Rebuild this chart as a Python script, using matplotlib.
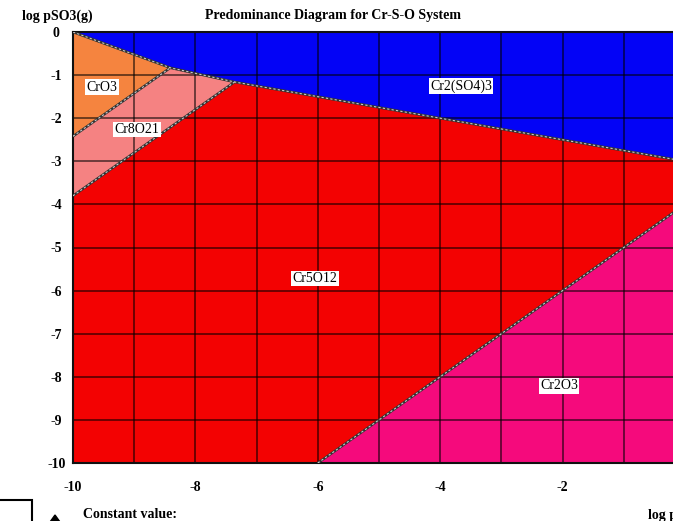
import matplotlib
matplotlib.use("Agg")
import matplotlib.pyplot as plt
from matplotlib.patches import Polygon, Rectangle

plt.rcParams['font.family'] = ['Liberation Serif', 'DejaVu Serif']

# --- Phase field data (x = log pO2, y = log pSO3) ---------------------------
x_range = [-10, 0]
y_range = [-10, 0]
x_ticks = [-10, -8, -6, -4, -2]
y_ticks = [0, -1, -2, -3, -4, -5, -6, -7, -8, -9, -10]

# triple points and boundary end points
corner_tl = (-10.0, 0.0)
tp_cro3_cr8o21 = (-8.41, -0.83)
tp_cr8o21_cr5o12 = (-7.36, -1.16)
sulf_right = (0.0, -3.0)
cro3_left = (-10.0, -2.42)
cr8o21_left = (-10.0, -3.80)
cr2o3_bottom = (-6.0, -10.0)
cr2o3_right = (0.0, -4.0)

phases = ["Cr2(SO4)3", "CrO3", "Cr8O21", "Cr5O12", "Cr2O3"]
phase_colors = ["#0303f6", "#f5843f", "#f58282", "#f30202", "#f50a7c"]
phase_polygons = [
    [corner_tl, tp_cro3_cr8o21, tp_cr8o21_cr5o12, sulf_right, (0.0, 0.0)],
    [corner_tl, tp_cro3_cr8o21, cro3_left],
    [cro3_left, tp_cro3_cr8o21, tp_cr8o21_cr5o12, cr8o21_left],
    [cr8o21_left, tp_cr8o21_cr5o12, sulf_right, cr2o3_right, cr2o3_bottom, (-10.0, -10.0)],
    [cr2o3_bottom, cr2o3_right, (0.0, -10.0)],
]
label_x = [-3.66, -9.53, -8.95, -6.05, -2.06]
label_y = [-1.26, -1.28, -2.26, -5.72, -8.21]

boundaries = [
    [corner_tl, tp_cro3_cr8o21, tp_cr8o21_cr5o12, sulf_right],
    [cro3_left, tp_cro3_cr8o21],
    [cr8o21_left, tp_cr8o21_cr5o12],
    [cr2o3_bottom, cr2o3_right],
]

W, H = 673, 521
fig = plt.figure(figsize=(W / 100, H / 100), dpi=100)
fig.patch.set_facecolor("white")

ax_left, ax_right, ax_top, ax_bot = 73, 685, 32, 463
ax = fig.add_axes([ax_left / W, 1 - ax_bot / H, (ax_right - ax_left) / W, (ax_bot - ax_top) / H])
ax.set_xlim(*x_range)
ax.set_ylim(*y_range)

for poly, col in zip(phase_polygons, phase_colors):
    ax.add_patch(Polygon(poly, closed=True, facecolor=col, edgecolor="none", zorder=1))

# grid every unit
for gx in range(x_range[0] + 1, x_range[1]):
    ax.axvline(gx, color="black", lw=1.4, alpha=0.55, zorder=2)
for gy in range(y_range[0] + 1, y_range[1]):
    ax.axhline(gy, color="black", lw=1.4, alpha=0.55, zorder=2)

# phase boundaries: dark line with a light dashed core
for b in boundaries:
    bx, by = zip(*b)
    ax.plot(bx, by, color="#333333", lw=1.8, zorder=3, solid_capstyle="butt")
    ax.plot(bx, by, color="#c8c8c8", lw=0.8, zorder=4, dashes=(2, 2))

for name, lx, ly in zip(phases, label_x, label_y):
    ax.text(lx, ly, name, ha="center", va="center", fontsize=10, color="black", zorder=5,
            bbox=dict(boxstyle="square,pad=0.1", facecolor="white", edgecolor="none"))

for s in ax.spines.values():
    s.set_linewidth(1.5)
    s.set_color("#111111")

ax.set_xticks(x_ticks)
ax.set_yticks(y_ticks)
ax.set_xticklabels([str(t) for t in x_ticks], fontweight="bold", fontsize=10)
ax.set_yticklabels([str(t) for t in y_ticks], fontweight="bold", fontsize=10)
ax.tick_params(axis="both", length=0)
ax.tick_params(axis="x", pad=13)
ax.tick_params(axis="y", pad=12)
for lab in ax.get_yticklabels():
    lab.set_horizontalalignment("center")

fig.text(57 / W, 1 - 16 / H, "log pSO3(g)", ha="center", va="center", fontsize=10, fontweight="bold")
fig.text(333 / W, 1 - 15 / H, "Predominance Diagram for Cr-S-O System", ha="center", va="center",
         fontsize=10, fontweight="bold")
fig.text(83 / W, 1 - 515 / H, "Constant value:", ha="left", va="center", fontsize=10, fontweight="bold")
fig.text(648 / W, 1 - 515 / H, "log pO2(g)", ha="left", va="center", fontsize=10, fontweight="bold")

# legend frame and marker in the lower strip
fig.patches.append(Rectangle((-20 / W, 1 - 540 / H), 52 / W, 40 / H, transform=fig.transFigure,
                             fill=False, edgecolor="black", lw=1.5))
fig.patches.append(Polygon([(50 / W, 1 - 522 / H), (55 / W, 1 - 515 / H), (60 / W, 1 - 522 / H)],
                           closed=True, transform=fig.transFigure, facecolor="black", edgecolor="black"))

fig.savefig("out.png", dpi=100)
